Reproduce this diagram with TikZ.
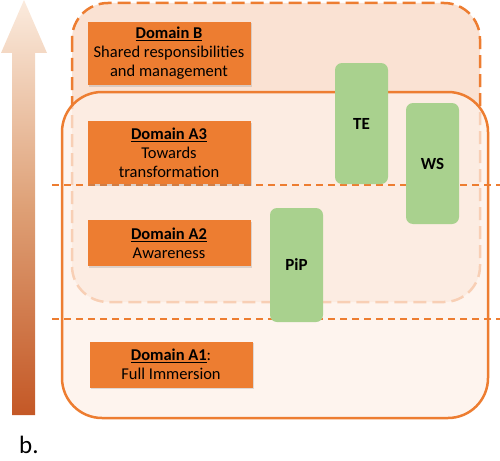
\documentclass[tikz,border=0pt]{standalone}
\usepackage{fontspec}
\setmainfont{Carlito}
\usetikzlibrary{shadows}
\definecolor{org}{RGB}{237,125,49}
\definecolor{peach}{RGB}{250,226,211}
\definecolor{pale}{RGB}{253,240,232}
\definecolor{grn}{RGB}{169,209,142}
\definecolor{arrtop}{RGB}{251,235,222}
\definecolor{arrbot}{RGB}{196,88,38}
\begin{document}
\begin{tikzpicture}[x=1pt,y=-1pt,
  dom/.style={fill=org, draw=none, align=center, font=\fontsize{16.5}{19}\selectfont,
    minimum width=163, minimum height=63, inner sep=0pt,
    drop shadow={opacity=0.25, shadow xshift=1.5pt, shadow yshift=-1.5pt}},
  grnbox/.style={fill=grn, draw=none, rounded corners=7pt, minimum width=53,
    inner sep=0pt, font=\fontsize{17}{19}\selectfont\bfseries},
  sep/.style={draw=org, line width=1.4pt, dash pattern=on 7pt off 5pt}]
\useasboundingbox (0,0) rectangle (500,460);
% arrow
\shade[top color=arrtop, bottom color=arrbot, middle color={rgb,255:red,222;green,160;blue,118}]
  (12,415) -- (12,53) -- (1,53) -- (24,0) -- (47,53) -- (35,53) -- (35,415) -- cycle;
% domain B dashed box
\draw[fill=peach, draw=org, line width=2.5pt, dash pattern=on 13pt off 6pt, rounded corners=36pt]
  (72,3) rectangle (480,302);
% solid box with translucent fill
\draw[fill=pale, fill opacity=0.72, draw=org, line width=2.5pt, rounded corners=40pt]
  (62,92) rectangle (488,418);
% separators
\coordinate (s1l) at (52,185); \coordinate (s1r) at (500,185);
\coordinate (s2l) at (52,319); \coordinate (s2r) at (500,319);
\draw[sep] (s1l) -- (s1r);
\draw[sep] (s2l) -- (s2r);
% domain boxes
\node[dom] (B) at (169,53.5) {\underline{\textbf{Domain B}}\\Shared responsibilities\\and management};
\node[dom] (A3) at (169,152.5) {\underline{\textbf{Domain A3}}\\Towards\\transformation};
\node[dom, minimum height=46] (A2) at (169,243) {\underline{\textbf{Domain A2}}\\Awareness};
\node[dom, minimum height=46] (A1) at (171,364.5) {\underline{\textbf{Domain A1}}:\\Full Immersion};
% green boxes
\node[grnbox, minimum height=121] (TE) at (361.5,123.5) {TE};
\node[grnbox, minimum height=121] (WS) at (432.5,163.5) {WS};
\node[grnbox, minimum height=114] (PiP) at (296.5,265) {PiP};
% label
\node[font=\fontsize{25}{28}\selectfont, anchor=base west, inner sep=0pt] (lbl) at (19,453) {b.};
\end{tikzpicture}
\end{document}
